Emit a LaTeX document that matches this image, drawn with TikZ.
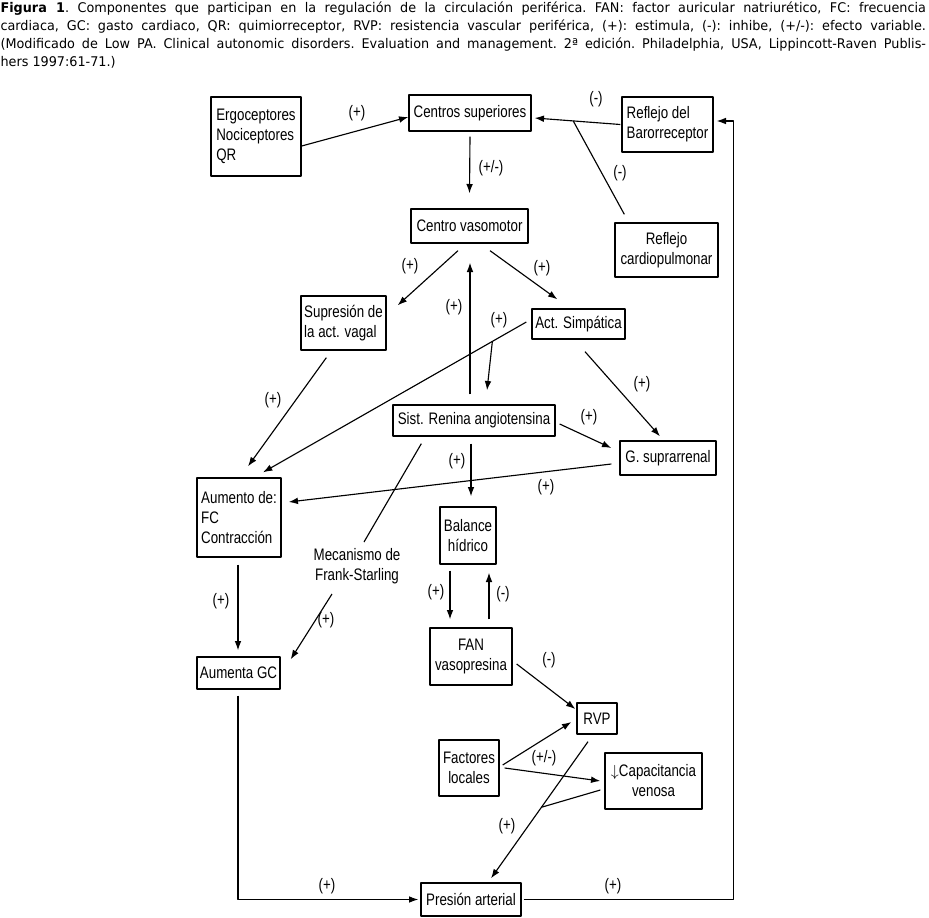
\documentclass[tikz,border=0pt]{standalone}
\usepackage{fontspec}
\setmainfont{Liberation Sans}[FakeStretch=0.8]
\newfontfamily\capfont{DejaVu Sans}[FakeStretch=0.96]
\usetikzlibrary{arrows.meta,calc}
\tikzset{
  caja/.style={draw, line width=1pt, inner sep=2pt, font=\fontsize{12.5}{15}\selectfont},
  tam/.style 2 args={minimum width=#1*0.75pt, minimum height=#2*0.75pt},
  rot/.style={font=\fontsize{12.5}{15}\selectfont, inner sep=0pt},
}
\newcommand\capw{694pt}
\begin{document}
\begin{tikzpicture}[x=0.75pt, y=-0.75pt, line width=0.85pt, line join=round, >={Latex[length=7pt,width=5pt]}]
		\useasboundingbox (0,0) rectangle (929,918);
		\node[anchor=north west, inner sep=0pt, align=left, font=\capfont\fontsize{10}{13.5}\selectfont\frenchspacing] (pie) at (0,1) {%
			\makebox[\capw][s]{\textbf{Figura 1}. Componentes que participan en la regulación de la circulación periférica. FAN: factor auricular natriurético, FC: frecuencia}\\
			\makebox[\capw][s]{cardiaca, GC: gasto cardiaco, QR: quimiorreceptor, RVP: resistencia vascular periférica, (+): estimula, (-): inhibe, (+/-): efecto variable.}\\
			\makebox[\capw][s]{(Modificado de Low PA. Clinical autonomic disorders. Evaluation and management. 2ª edición. Philadelphia, USA, Lippincott-Raven Publis-}\\
			hers 1997:61-71.)};
		\node[caja, tam={90}{79}, align=left] (ergo) at (256,136.5) {Ergoceptores\\Nociceptores\\QR};
		\node[caja, tam={122}{36}] (cs) at (470,113) {Centros superiores};
		\node[caja, tam={91}{55}, align=left] (baro) at (667.5,124.5) {Reflejo del\\Barorreceptor};
		\node[caja, tam={103}{54}, align=center] (cardio) at (666.5,250) {Reflejo\\cardiopulmonar};
		\node[caja, tam={117}{34}] (cvm) at (469.5,226) {Centro vasomotor};
		\node[caja, tam={85}{54}, align=left] (sup) at (343.5,323) {Supresión de\\la act. vagal};
		\node[caja, tam={93}{30}] (act) at (578.5,324) {Act. Simpática};
		\node[caja, tam={162}{31}] (sra) at (474,420.5) {Sist. Renina angiotensina};
		\node[caja, tam={96}{34}] (gsup) at (668,458) {G. suprarrenal};
		\node[caja, tam={84}{79}, align=left] (aum) at (239,517.5) {Aumento de:\\FC\\Contracción};
		\node[caja, tam={56}{57}, align=center] (bal) at (468,535.5) {Balance\\hídrico};
		\node[caja, tam={82}{57}, align=center] (fan) at (471,656.5) {FAN\\vasopresina};
		\node[caja, tam={83}{32}] (agc) at (238.5,673) {Aumenta GC};
		\node[caja, tam={40}{31}] (rvp) at (597,718.5) {RVP};
		\node[caja, tam={60}{56}, align=center] (fl) at (469,768) {Factores\\locales};
		\node[caja, tam={97}{56}, align=center] (capv) at (653.5,781) {$\downarrow$Capacitancia\\venosa};
		\node[caja, tam={100}{33}] (pa) at (471,899.5) {Presión arterial};
		\node[rot, align=center] (mec) at (357,566) {Mecanismo de\\Frank-Starling};
		\foreach \x/\y/\t [count=\i] in {357/113/(+), 596/99/(-), 620/173/(-), 491/168/{(+/-)}, 410/266/(+), 542/268/(+), 454/307/(+), 499/320/(+), 273/400/(+), 642/384/(+), 589/417/(+), 457/461/(+), 546/487/(+), 221/601/(+), 326/620/(+), 436/592/(+), 503/594/(-), 549/660/(-), 544/758/{(+/-)}, 507/826/(+), 327/886/(+), 613/886/(+)}{\node[rot] (s\i) at (\x,\y) {\t};}
		\path ($(baro.west)+(-1,0)$) coordinate (bi) ($(cs.east)+(3,5)$) coordinate (bf);
		\path ($(bi)!0.55!(bf)$) coordinate (j1);
		\path ($(act.west)+(-5,-2)$) coordinate (ai) ($(aum.north)+(24,-5)$) coordinate (af);
		\path ($(ai)!0.129!(af)$) coordinate (j2);
		\path ($(rvp.south)+(-9,7)$) coordinate (ri) ($(pa.north)+(20,-4)$) coordinate (rf);
		\path ($(ri)!0.48!(rf)$) coordinate (j3);
		\draw[->] ($(ergo.east)+(0,9.5)$) -- ($(cs.west)+(0,4)$);
		\draw[->] (bi) -- (bf);
		\draw ($(cardio.north west)+(10,-8)$) -- (j1);
		\draw[->] ($(cs.south)+(0,5)$) -- ($(cvm.north)+(0,-15)$);
		\draw[->] ($(cvm.south)+(-11.5,7)$) -- ($(sup.north east)+(11,10)$);
		\draw[->] ($(cvm.south)+(20.5,7)$) -- ($(act.north west)+(26,-9)$);
		\draw[->] ($(sra.north)+(-4,-10)$) -- ($(cvm.south)+(0.5,19)$);
		\draw[->] (ai) -- (af);
		\draw[->] (j2) -- ($(sra.north)+(13,-14)$);
		\draw[->] ($(sup.south west)+(26,7)$) -- ($(aum.north)+(9,-11)$);
		\draw[->] ($(act.south)+(6.5,12)$) -- ($(gsup.north)+(-8,-4)$);
		\draw[->] ($(sra.east)+(4,3.5)$) -- ($(gsup.west)+(-8,-10)$);
		\draw[->] ($(gsup.west)+(-8,6)$) -- ($(aum.east)+(7,-15.5)$);
		\draw ($(sra.south west)+(29,7)$) -- ($(mec.center)+(7,-24)$);
		\draw[->] ($(mec.center)+(-25,28)$) -- ($(agc.north east)+(10,3)$);
		\draw[->] ($(sra.south)+(-3,7)$) -- ($(bal.north)+(3,-10)$);
		\draw[->] ($(aum.south)+(-1,7)$) -- ($(agc.north)+(-0.5,-6)$);
		\draw[->] ($(bal.south)+(-18,6)$) -- ($(fan.north)+(-21,-8)$);
		\draw[->] ($(fan.north)+(18,-8)$) -- ($(bal.south)+(21,8)$);
		\draw[->] ($(fan.east)+(4,7.5)$) -- ($(rvp.west)+(-1,-9.5)$);
		\draw[->] ($(fl.east)+(3,-3)$) -- ($(rvp.west)+(-5,3.5)$);
		\draw[->] ($(fl.east)+(5,0)$) -- ($(capv.west)+(-4,0)$);
		\draw[->] (ri) -- (rf);
		\draw ($(capv.west)+(-4,9)$) -- (j3);
		\draw[->] ($(agc.south)+(-0.5,6)$) |- ($(pa.west)+(-2,0)$);
		\draw[->] ($(pa.east)+(2,0)$) -| ($(baro.east)+(20,-3.5)$) -- ($(baro.east)+(3,-3.5)$);
	\end{tikzpicture}
\end{document}
